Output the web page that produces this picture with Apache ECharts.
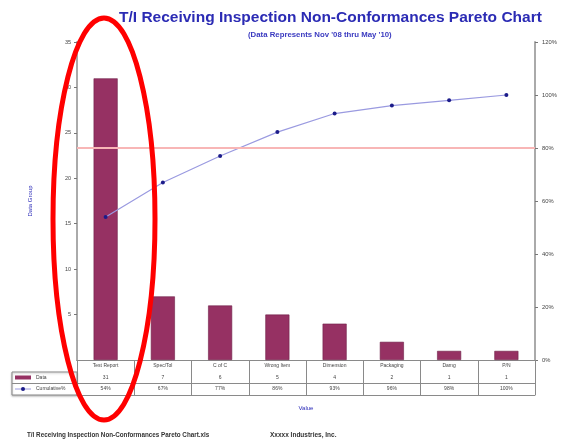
<!DOCTYPE html>
<html><head><meta charset="utf-8">
<script src="https://cdn.jsdelivr.net/npm/echarts@6/dist/echarts.min.js"></script>
<style>html,body{margin:0;padding:0;background:#fff}#c{width:566px;height:440px}</style>
</head><body><div id="c"></div>
<script>
var categories = ['Test Report','Spec/Tol','C of C','Wrong Item','Dimension','Packaging','Damg','P/N'];
var counts = [31, 7, 6, 5, 4, 2, 1, 1];
var cumulative = [54, 67, 77, 86, 93, 96, 98, 100];
var leftTicks = [0, 5, 10, 15, 20, 25, 30, 35];
var rightTicks = [0, 20, 40, 60, 80, 100, 120];
var threshold = 80;

var F = 'Arial, "Liberation Sans", sans-serif';
var chart = echarts.init(document.getElementById('c'), null, {renderer:'canvas'});
var grey = '#8a8a8a';
var txt = '#444';
var blue = '#2a2ab8';

function tableAxis(data, offset, showLabel, name) {
  return {
    type:'category', data:data, position:'bottom', offset:offset, gridIndex:0,
    axisLine:{show:true, lineStyle:{color:grey, width:1}},
    axisTick:{show:false},
    axisLabel:{show:showLabel, interval:0, fontSize:5, color:txt, fontFamily:F, margin:3},
    name:name||'', nameLocation:'middle', nameGap:10,
    nameTextStyle:{color:blue, fontSize:6, fontFamily:F}
  };
}

var option = {
  animation:false,
  backgroundColor:'#fff',
  title:[
    {text:'T/I Receiving Inspection Non-Conformances Pareto Chart', left:114, top:5,
     textStyle:{fontSize:15.5, fontWeight:'bold', color:'#2b2bb4', fontFamily:F}},
    {text:"(Data Represents Nov '08 thru May '10)", left:243, top:26,
     textStyle:{fontSize:7.8, fontWeight:'bold', color:'#3a3ac0', fontFamily:F}}
  ],
  grid:{left:77, right:31, top:42, bottom:80, containLabel:false},
  xAxis:[
    {type:'category', data:categories, position:'bottom', offset:0,
     axisLine:{show:true, lineStyle:{color:grey, width:1}},
     axisTick:{show:true, interval:0, length:35, lineStyle:{color:grey}},
     axisLabel:{interval:0, fontSize:5, color:txt, fontFamily:F, margin:3}},
    tableAxis(counts.map(String), 12, true),
    tableAxis(cumulative.map(function(v){return v+'%';}), 23, true),
    tableAxis(categories, 35, false, 'Value')
  ],
  yAxis:[
    {type:'value', min:0, max:35, interval:5, position:'left',
     name:'Data Group', nameLocation:'middle', nameGap:44, nameRotate:90,
     nameTextStyle:{color:blue, fontSize:6, fontFamily:F},
     axisLine:{show:true, lineStyle:{color:'#aaa', width:2}},
     axisTick:{show:true, length:3, lineStyle:{color:'#777'}},
     axisLabel:{fontSize:5.5, color:txt, fontFamily:F, margin:6, showMinLabel:false},
     splitLine:{show:false}},
    {type:'value', min:0, max:120, interval:20, position:'right',
     axisLine:{show:true, lineStyle:{color:'#aaa', width:2}},
     axisTick:{show:true, length:3, inside:false, lineStyle:{color:'#777'}},
     axisLabel:{fontSize:5.8, color:txt, fontFamily:F, margin:7, formatter:'{value}%'},
     splitLine:{show:false}}
  ],
  series:[
    {type:'bar', name:'Data', data:counts, xAxisIndex:0, yAxisIndex:0, barWidth:'42%',
     itemStyle:{color:'#963163', borderColor:'#6e2048', borderWidth:0.6}},
    {type:'line', name:'Cumulative%', data:cumulative, xAxisIndex:0, yAxisIndex:1,
     symbol:'circle', symbolSize:4, showSymbol:true,
     lineStyle:{color:'#9a9ae0', width:1.2},
     itemStyle:{color:'#1c1c8a'},
     markLine:{silent:true, symbol:'none', label:{show:false},
       lineStyle:{color:'#f8b6b6', width:2.2, type:'solid'},
       data:[{yAxis:threshold}]}}
  ],
  graphic:[
    {type:'rect', shape:{x:12, y:372, width:65, height:23}, style:{fill:'#fff', stroke:grey, lineWidth:1, shadowColor:'rgba(0,0,0,0.25)', shadowBlur:2, shadowOffsetY:1}, z:1},
    {type:'line', shape:{x1:12, y1:383.5, x2:77, y2:383.5}, style:{stroke:grey, lineWidth:1}, z:2},
    {type:'rect', shape:{x:15, y:375.5, width:16, height:4}, style:{fill:'#963163'}, z:3},
    {type:'text', x:36, y:377.5, style:{text:'Data', fontSize:5, fill:txt, font:'5px '+F, textVerticalAlign:'middle'}, z:3},
    {type:'line', shape:{x1:15, y1:389, x2:31, y2:389}, style:{stroke:'#9a9ae0', lineWidth:1}, z:3},
    {type:'circle', shape:{cx:23, cy:389, r:2}, style:{fill:'#1c1c8a'}, z:4},
    {type:'text', x:36, y:389, style:{text:'Cumulative%', fontSize:5, fill:txt, font:'5px '+F, textVerticalAlign:'middle'}, z:3},
    {type:'text', x:27, y:432, style:{text:'T/I Receiving Inspection Non-Conformances Pareto Chart.xls', font:'bold 6.3px '+F, fill:'#333'}, z:3},
    {type:'text', x:270, y:432, style:{text:'Xxxxx Industries, Inc.', font:'bold 6.5px '+F, fill:'#333'}, z:3},
    {type:'ellipse', shape:{cx:104, cy:219, rx:51, ry:201}, style:{fill:'none', stroke:'#f00', lineWidth:5}, z:100}
  ]
};
chart.setOption(option);
</script>
</body></html>
